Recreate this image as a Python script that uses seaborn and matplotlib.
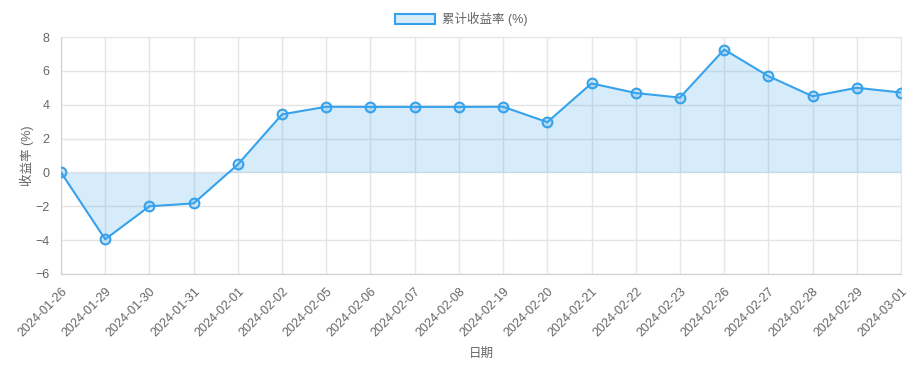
import matplotlib
matplotlib.use('Agg')
import matplotlib.pyplot as plt
import pandas as pd
import seaborn as sns
from matplotlib.patches import Patch

dates = ['2024-01-26', '2024-01-29', '2024-01-30', '2024-01-31', '2024-02-01',
         '2024-02-02', '2024-02-05', '2024-02-06', '2024-02-07', '2024-02-08',
         '2024-02-19', '2024-02-20', '2024-02-21', '2024-02-22', '2024-02-23',
         '2024-02-26', '2024-02-27', '2024-02-28', '2024-02-29', '2024-03-01']
returns = [0.0, -3.95, -2.0, -1.83, 0.47,
           3.43, 3.88, 3.87, 3.87, 3.87,
           3.88, 2.97, 5.26, 4.69, 4.42,
           7.26, 5.69, 4.5, 5.0, 4.72]
yticks = [-6, -4, -2, 0, 2, 4, 6, 8]

sns.set_style('white')
plt.rcParams['font.family'] = ['Liberation Sans', 'Noto Sans CJK SC', 'DejaVu Sans']

blue = '#36a2eb'
fill = (54/255, 162/255, 235/255, 0.2)
grid = '#e5e5e5'
text = '#666666'

df = pd.DataFrame({'date': dates, 'ret': returns})
df['pos'] = range(len(df))

fig = plt.figure(figsize=(9.22, 3.71), dpi=100)
ax = fig.add_axes([61/922, 1 - 274/371, 840/922, 237/371])

ax.fill_between(df['pos'], df['ret'], 0, color=fill, linewidth=0, zorder=1)
sns.lineplot(data=df, x='pos', y='ret', ax=ax, color=blue, linewidth=1.5,
             marker='o', markersize=7, markerfacecolor=fill,
             markeredgecolor=blue, markeredgewidth=1.5, zorder=3)

ax.set_xlim(0, len(df) - 1)
ax.set_ylim(-6, 8)
ax.set_yticks(yticks)
ax.set_xticks(df['pos'])
ax.set_xticklabels(dates, rotation=45, ha='right', rotation_mode='anchor')
ax.grid(True, color=grid, linewidth=1)
ax.set_axisbelow(True)
for s in ax.spines.values():
    s.set_color(grid)
ax.spines['left'].set_color('#cfcfcf')
ax.spines['bottom'].set_color('#cfcfcf')
ax.tick_params(axis='both', colors=grid, labelcolor=text, labelsize=9, length=5, width=1)

ax.set_xlabel('日期', color=text, fontsize=9, labelpad=6)
ax.set_ylabel('收益率 (%)', color=text, fontsize=9, labelpad=1)

handle = Patch(facecolor=fill, edgecolor=blue, linewidth=1.5, label='累计收益率 (%)')
fig.legend(handles=[handle], loc='center', bbox_to_anchor=(0.5, 1 - 19/371),
           frameon=False, fontsize=9, labelcolor=text, handlelength=3.2,
           handleheight=0.9, handletextpad=0.6, borderaxespad=0)

fig.savefig('out.png', dpi=100)
